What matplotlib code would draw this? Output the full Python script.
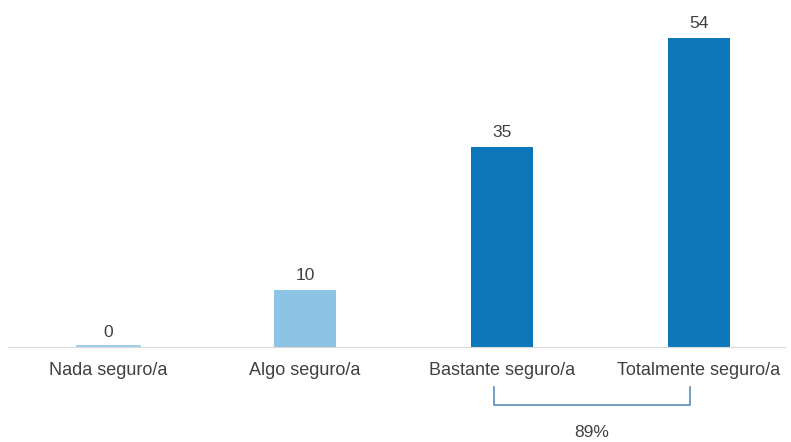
import matplotlib

matplotlib.use("Agg")
import matplotlib.pyplot as plt
from matplotlib.transforms import blended_transform_factory

plt.rcParams["font.family"] = ["Liberation Sans", "DejaVu Sans"]

categories = ["Nada seguro/a", "Algo seguro/a", "Bastante seguro/a", "Totalmente seguro/a"]
values = [0, 10, 35, 54]
bracket_label = "89%"

LIGHT = "#8dc3e5"
DARK = "#0b77b8"
TEXT = "#404040"
colors = [LIGHT, LIGHT, DARK, DARK]

fig = plt.figure(figsize=(7.91, 4.42), dpi=100)
ax = fig.add_axes([8 / 791, 95 / 442, 777 / 791, 343 / 442])

x = list(range(len(categories)))
ax.bar(x, values, width=0.315, color=colors)
# the zero bar still shows as a thin line on the axis
ax.plot([-0.16, 0.16], [0.15, 0.15], color=LIGHT, lw=1.2)

for xi, v in zip(x, values):
    ax.annotate(f"{v}", (xi, v), xytext=(0, 5), textcoords="offset points",
                ha="center", va="bottom", fontsize=12.5, color=TEXT)

ax.set_xlim(-0.508, 3.437)
ax.set_ylim(0, 60)
ax.set_yticks([])
ax.set_xticks(x)
ax.set_xticklabels(categories, fontsize=13, color=TEXT)
ax.tick_params(axis="x", length=0, pad=11)
for side in ("top", "right", "left"):
    ax.spines[side].set_visible(False)
ax.spines["bottom"].set_color("#d9d9d9")

# bracket joining the two top categories
trans = blended_transform_factory(ax.transData, ax.transAxes)
bx0, bx1 = 1.96, 2.954
ax.plot([bx0, bx0, bx1, bx1], [-0.117, -0.169, -0.169, -0.117], color="#5b8db8",
        lw=1.2, transform=trans, clip_on=False)
ax.text((bx0 + bx1) / 2, -0.25, bracket_label, transform=trans, ha="center",
        va="center", fontsize=12.5, color=TEXT)

fig.savefig("out.png", dpi=100)
